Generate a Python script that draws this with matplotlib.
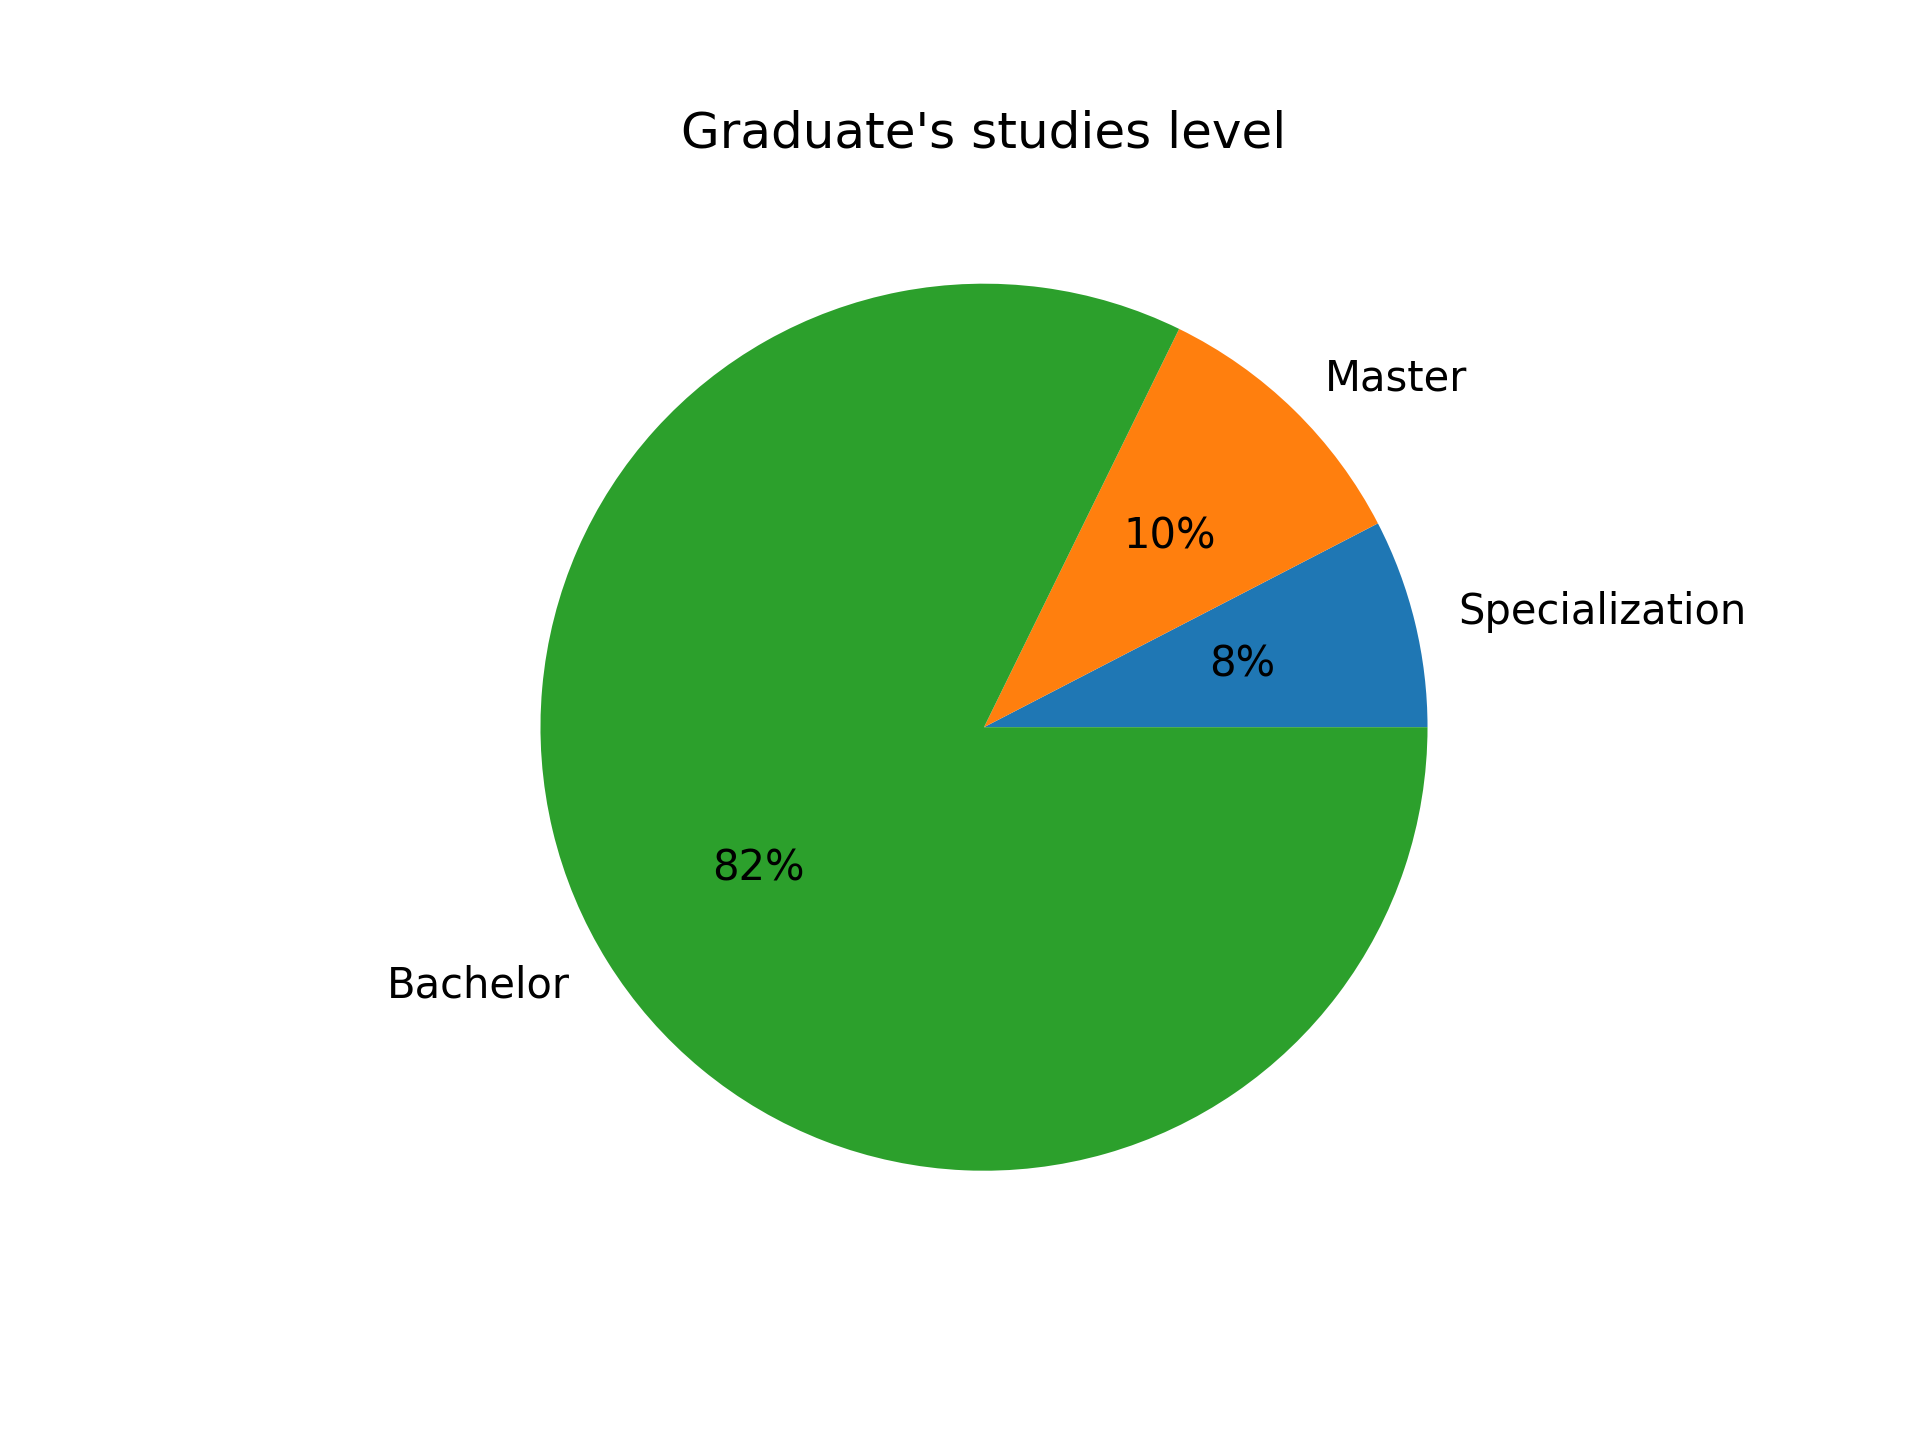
import matplotlib
matplotlib.use("Agg")
import matplotlib.pyplot as plt

labels = ["Specialization", "Master", "Bachelor"]
values = [7.6, 10.15, 82.25]
colors = ["#1f77b4", "#ff7f0e", "#2ca02c"]

fig, ax = plt.subplots(figsize=(6.4, 4.8), dpi=300)
ax.pie(values, labels=labels, colors=colors, autopct="%1.0f%%")
ax.set_title("Graduate's studies level")
fig.savefig("out.png", dpi=300)
